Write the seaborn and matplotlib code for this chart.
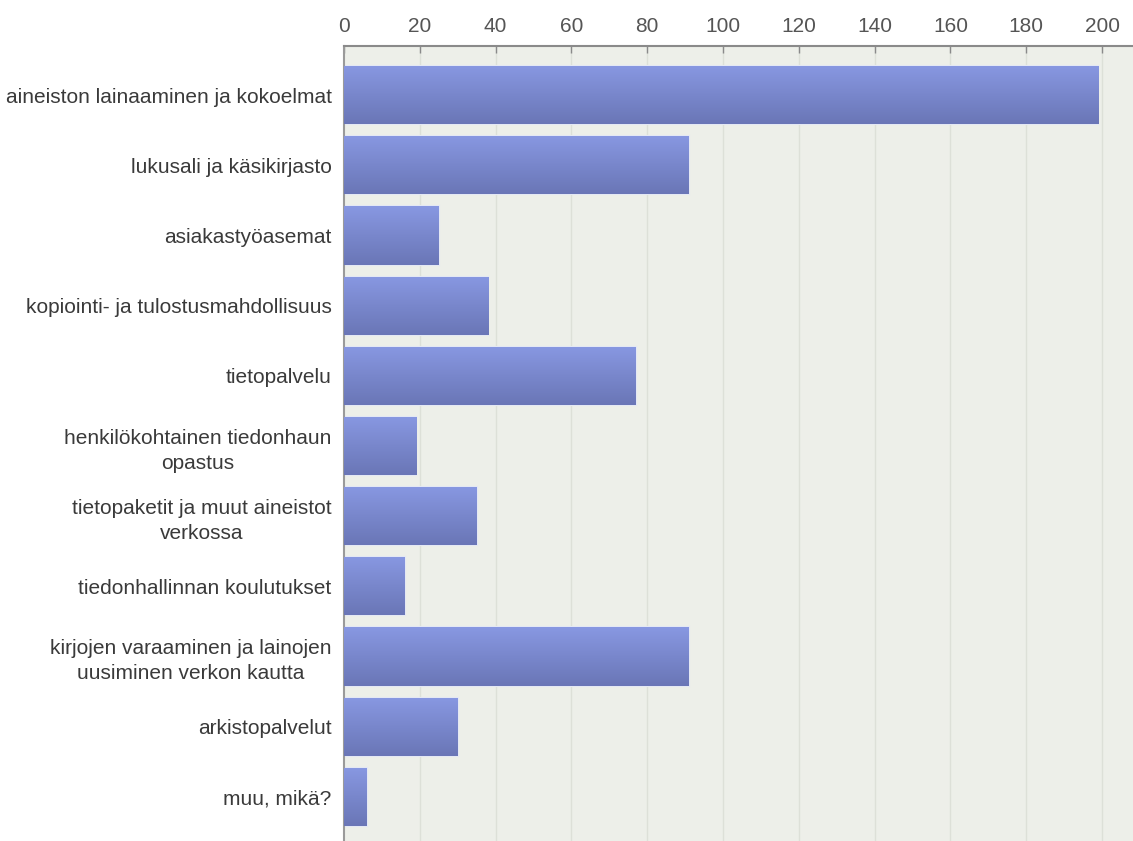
import numpy as np
import pandas as pd
import matplotlib
matplotlib.use("Agg")
import matplotlib.pyplot as plt
import seaborn as sns
from matplotlib.colors import LinearSegmentedColormap

# Survey answers: library services used
categories = [
    "aineiston lainaaminen ja kokoelmat",
    "lukusali ja käsikirjasto",
    "asiakastyöasemat",
    "kopiointi- ja tulostusmahdollisuus",
    "tietopalvelu",
    "henkilökohtainen tiedonhaun\nopastus",
    "tietopaketit ja muut aineistot\nverkossa",
    "tiedonhallinnan koulutukset",
    "kirjojen varaaminen ja lainojen\nuusiminen verkon kautta",
    "arkistopalvelut",
    "muu, mikä?",
]
counts = [199, 91, 25, 38, 77, 19, 35, 16, 91, 30, 6]
x_ticks = [0, 20, 40, 60, 80, 100, 120, 140, 160, 180, 200]

df = pd.DataFrame({"palvelu": categories, "vastaukset": counts})

sns.set_theme(style="white")
plt.rcParams["font.family"] = ["Liberation Sans", "DejaVu Sans"]

W, H = 1133, 841
fig = plt.figure(figsize=(W / 100, H / 100), dpi=100)
left, top = 344, 46
ax = fig.add_axes([left / W, 0, (W - left) / W, (H - top) / H])

ax.set_facecolor("#EDEFE9")
for x in x_ticks[1:]:
    ax.axvline(x, color="#DDE0D8", lw=1, zorder=0)

sns.barplot(data=df, x="vastaukset", y="palvelu", orient="h",
            color="#7A87CC", width=0.83, edgecolor="#E4E8F4", linewidth=1.5,
            ax=ax, zorder=2)

# vertical gradient fill inside each bar
grad_cmap = LinearSegmentedColormap.from_list("bar", ["#8898E2", "#6A76B6"])
grad = np.linspace(0, 1, 256).reshape(-1, 1)
for patch in ax.patches:
    x0, y0 = patch.get_x(), patch.get_y()
    w, h = patch.get_width(), patch.get_height()
    im = ax.imshow(grad, cmap=grad_cmap, aspect="auto",
                   extent=[x0, x0 + w, y0 + h, y0], origin="upper",
                   zorder=3, interpolation="bilinear")
    im.set_clip_path(patch)

ax.set_xlim(0, (W - left) / 3.79)
ax.set_ylim(10.63, -0.7)
ax.xaxis.tick_top()
ax.set_xticks(x_ticks)
ax.tick_params(axis="x", colors="#8A8A8A", labelcolor="#555555",
               labelsize=15, length=5, direction="in", pad=7, width=1)
ax.tick_params(axis="y", length=0, labelcolor="#3A3A3A", labelsize=15, pad=9)
for lbl in ax.get_yticklabels():
    lbl.set_multialignment("center")
    lbl.set_linespacing(1.4)
ax.set_xlabel("")
ax.set_ylabel("")

for side in ("right", "bottom"):
    ax.spines[side].set_visible(False)
ax.spines["top"].set_color("#8A8A8A")
ax.spines["top"].set_linewidth(1.5)
ax.spines["left"].set_color("#9A9A9A")
ax.spines["left"].set_linewidth(1.5)

fig.savefig("out.png", dpi=100)
